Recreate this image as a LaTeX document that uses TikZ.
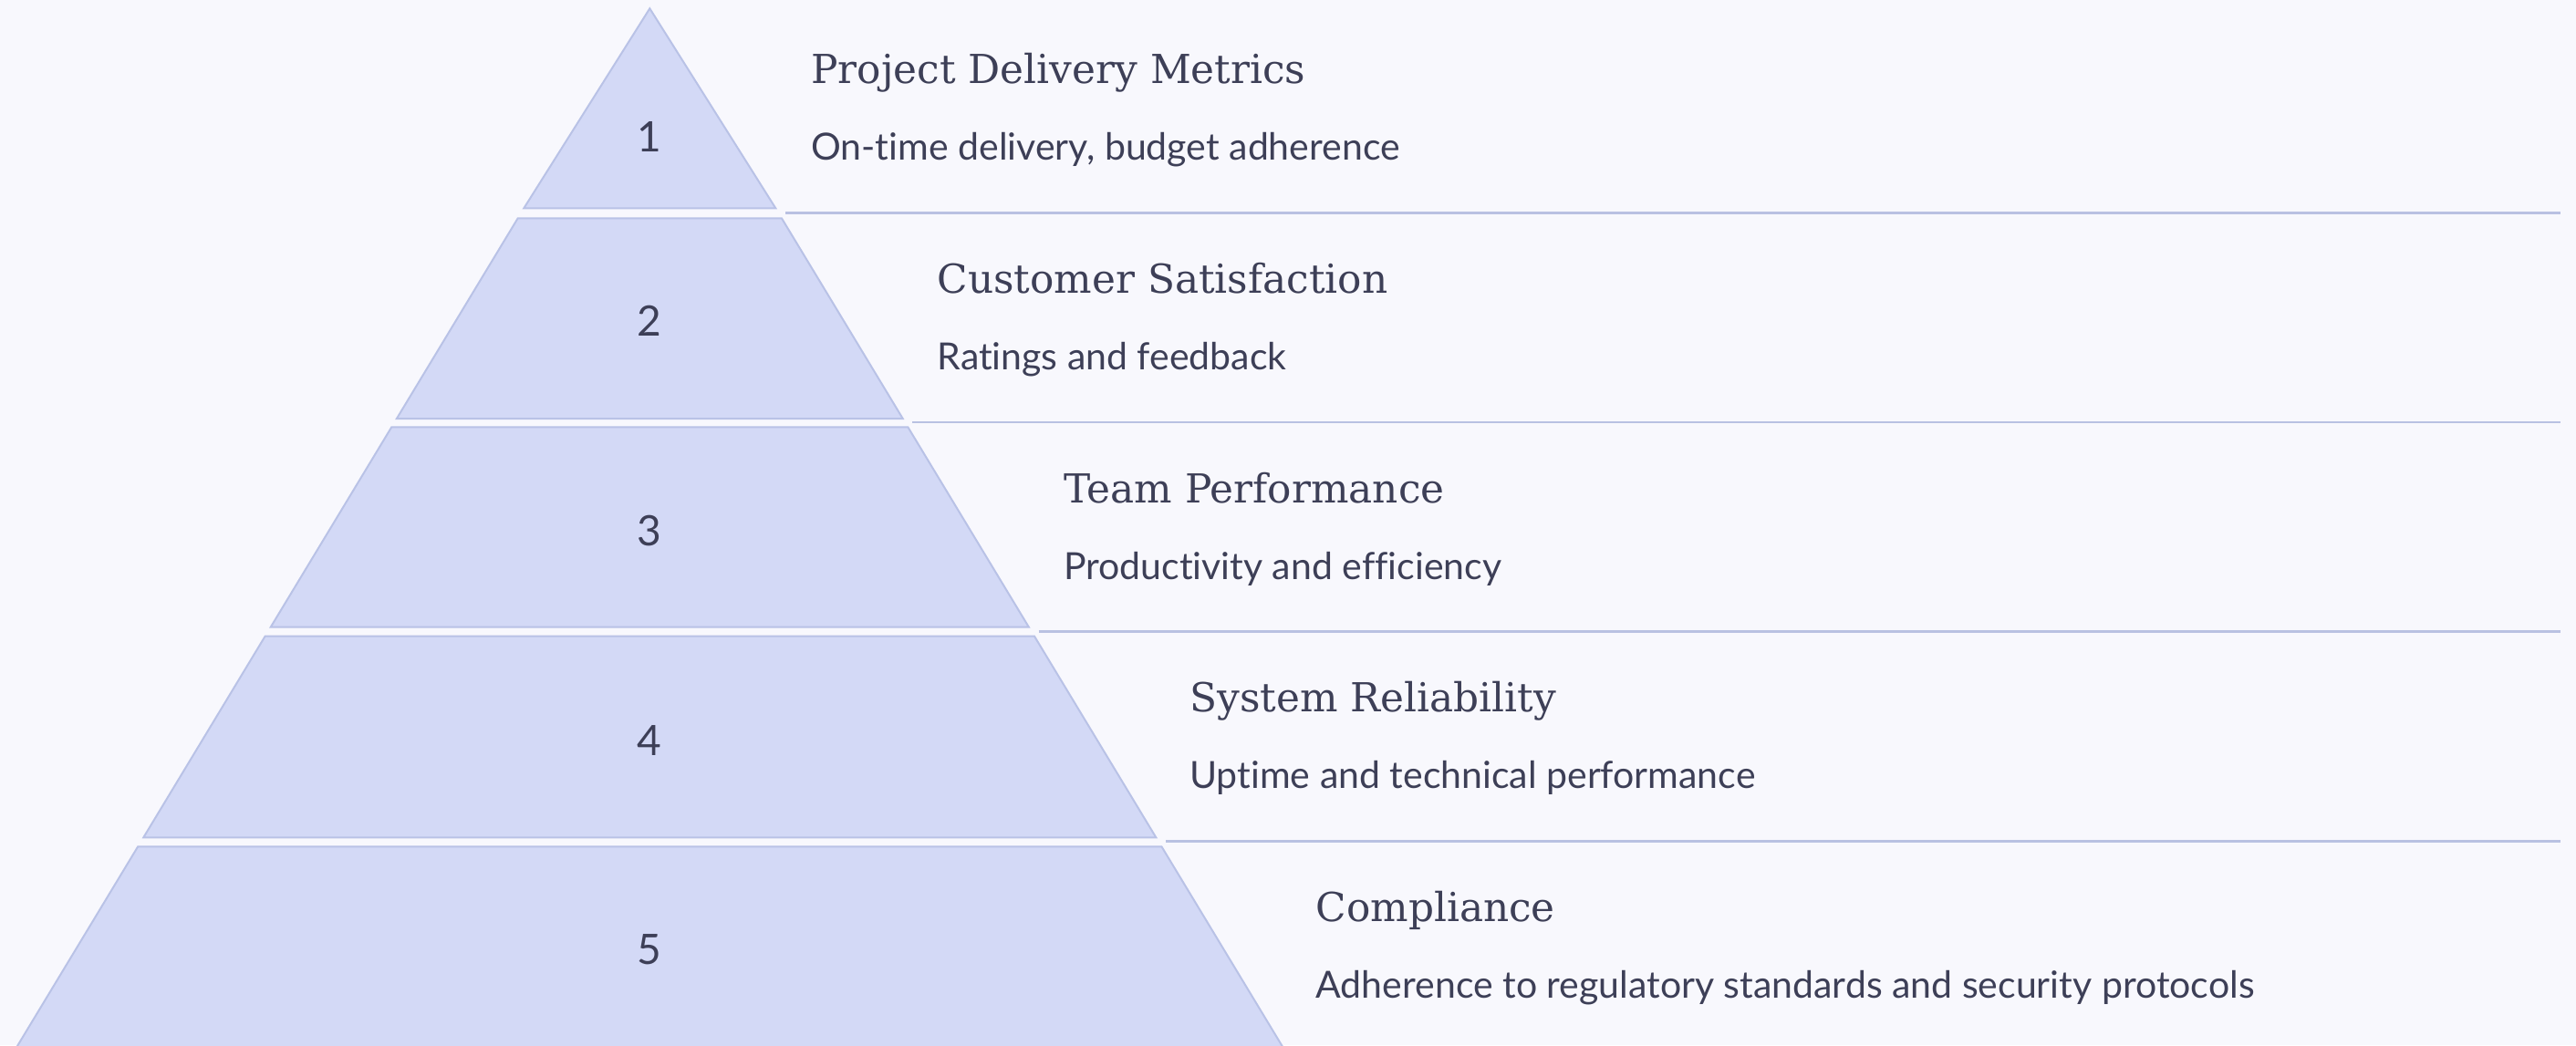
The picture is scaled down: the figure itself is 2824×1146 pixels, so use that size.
\documentclass[tikz,border=0pt]{standalone}
\usepackage{fontspec}
\setmainfont{Lato}
\newfontfamily\titlefont{DejaVu Serif}
\newfontfamily\bodyfont[Ligatures=NoCommon]{Lato}
\definecolor{bg}{HTML}{F8F8FD}
\definecolor{bandfill}{HTML}{D3D9F6}
\definecolor{bandline}{HTML}{B9C2E6}
\definecolor{sepline}{HTML}{B9C1E2}
\definecolor{ink}{HTML}{3D3F57}
\begin{document}
\begin{tikzpicture}[x=0.5pt,y=-0.5pt,
  band/.style={fill=bandfill,draw=bandline,line width=1pt,line join=miter},
  num/.style={font=\bodyfont\fontsize{23}{23}\selectfont,text=ink,inner sep=0pt},
  ttl/.style={font=\titlefont\fontsize{21.9}{22}\selectfont,text=ink,inner sep=0pt,anchor=base west},
  sub/.style={font=\bodyfont\fontsize{20.5}{21}\selectfont,text=ink,inner sep=0pt,anchor=base west},
  sep/.style={draw=sepline,line width=1.4pt}]
\fill[bg] (0,0) rectangle (2824,1146);
\useasboundingbox (0,0) rectangle (2824,1146);

% pyramid bands
\draw[band] (712.3,9.3) -- (850.3,228.3) -- (574.3,228.3) -- cycle;
\draw[band] (567.7,239.3) -- (856.9,239.3) -- (989.7,459) -- (434.9,459) -- cycle;
\draw[band] (429.3,468.3) -- (995.3,468.3) -- (1127.9,687.7) -- (296.7,687.7) -- cycle;
\draw[band] (290.6,697.7) -- (1134.0,697.7) -- (1267.3,918.3) -- (157.3,918.3) -- cycle;
\draw[band] (151.2,928.3) -- (1273.4,928.3) -- (1407.4,1150) -- (17.2,1150) -- cycle;

% numbers
\node[num] (n1) at (712.3,150) {1};
\node[num] (n2) at (712.3,351.7) {2};
\node[num] (n3) at (712.3,582.5) {3};
\node[num] (n4) at (712.3,811.7) {4};
\node[num] (n5) at (712.3,1040.7) {5};

% titles and descriptions
\node[ttl] (t1) at (889,91.7) {Project Delivery Metrics};
\node[sub] (d1) at (889,175.7) {On-time delivery, budget adherence};
\node[ttl] (t2) at (1027.3,321.4) {Customer Satisfaction};
\node[sub] (d2) at (1027.3,405.4) {Ratings and feedback};
\node[ttl] (t3) at (1165.6,551.1) {Team Performance};
\node[sub] (d3) at (1165.6,635.1) {Productivity and efficiency};
\node[ttl] (t4) at (1303.9,780.8) {System Reliability};
\node[sub] (d4) at (1303.9,864.8) {Uptime and technical performance};
\node[ttl] (t5) at (1442.2,1010.5) {Compliance};
\node[sub] (d5) at (1442.2,1094.5) {Adherence to regulatory standards and security protocols};

% separator lines
\coordinate (s1a) at (861,233.3);   \coordinate (s1b) at (2806.7,233.3);
\coordinate (s2a) at (1000,463);    \coordinate (s2b) at (2806.7,463);
\coordinate (s3a) at (1138.5,692.7);\coordinate (s3b) at (2806.7,692.7);
\coordinate (s4a) at (1278,922.4);  \coordinate (s4b) at (2806.7,922.4);
\draw[sep] (s1a) -- (s1b);
\draw[sep] (s2a) -- (s2b);
\draw[sep] (s3a) -- (s3b);
\draw[sep] (s4a) -- (s4b);
\end{tikzpicture}
\end{document}
